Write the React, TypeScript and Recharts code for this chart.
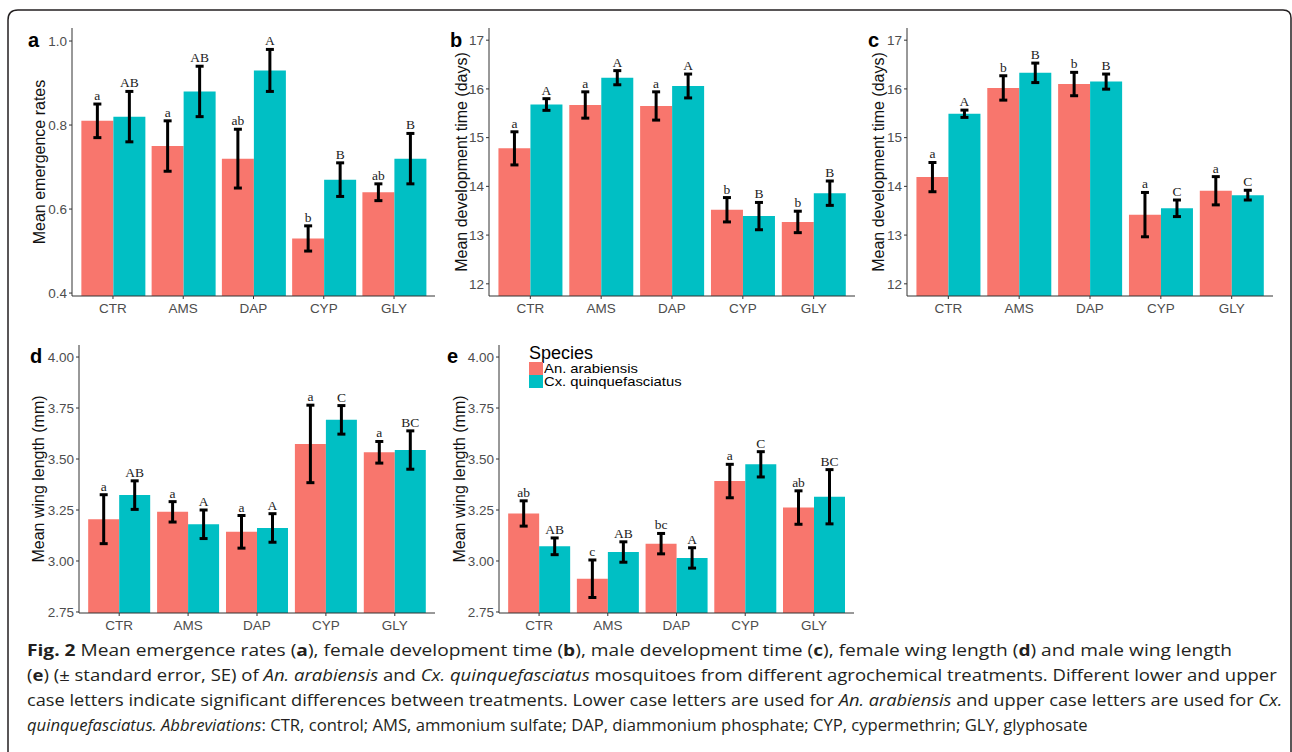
import React, { useLayoutEffect, useRef, useState } from 'react';
import { BarChart, Bar, XAxis, YAxis, ErrorBar, LabelList, Legend } from 'recharts';

// ---------- data ----------
const categories = ['CTR', 'AMS', 'DAP', 'CYP', 'GLY'];
const speciesNames = ['An. arabiensis', 'Cx. quinquefasciatus'];
const anColor = '#F8766D';
const cxColor = '#00BFC4';

// (a) Mean emergence rates
const emergenceAn = [0.81, 0.75, 0.72, 0.53, 0.64];
const emergenceAnSE = [0.04, 0.06, 0.07, 0.03, 0.02];
const emergenceAnLetters = ['a', 'a', 'ab', 'b', 'ab'];
const emergenceCx = [0.82, 0.88, 0.93, 0.67, 0.72];
const emergenceCxSE = [0.06, 0.06, 0.05, 0.04, 0.06];
const emergenceCxLetters = ['AB', 'AB', 'A', 'B', 'B'];
const emergenceTicks = [0.4, 0.6, 0.8, 1.0];
const emergenceDomain = [0.393, 1.031];

// (b) Female development time
const femDevAn = [14.78, 15.67, 15.65, 13.52, 13.27];
const femDevAnSE = [0.34, 0.27, 0.29, 0.25, 0.22];
const femDevAnLetters = ['a', 'a', 'a', 'b', 'b'];
const femDevCx = [15.68, 16.23, 16.06, 13.39, 13.86];
const femDevCxSE = [0.12, 0.145, 0.245, 0.28, 0.25];
const femDevCxLetters = ['A', 'A', 'A', 'B', 'B'];

// (c) Male development time
const maleDevAn = [14.19, 16.02, 16.1, 13.42, 13.91];
const maleDevAnSE = [0.3, 0.25, 0.24, 0.455, 0.29];
const maleDevAnLetters = ['a', 'b', 'b', 'a', 'a'];
const maleDevCx = [15.49, 16.33, 16.15, 13.55, 13.82];
const maleDevCxSE = [0.075, 0.2, 0.155, 0.17, 0.1];
const maleDevCxLetters = ['A', 'B', 'B', 'C', 'C'];
const devTicks = [12, 13, 14, 15, 16, 17];
const devDomain = [11.75, 17.25];

// (d) Female wing length
const femWingAn = [3.205, 3.241, 3.143, 3.574, 3.533];
const femWingAnSE = [0.12, 0.05, 0.08, 0.19, 0.053];
const femWingAnLetters = ['a', 'a', 'a', 'a', 'a'];
const femWingCx = [3.323, 3.18, 3.162, 3.692, 3.544];
const femWingCxSE = [0.07, 0.07, 0.07, 0.07, 0.094];
const femWingCxLetters = ['AB', 'A', 'A', 'C', 'BC'];

// (e) Male wing length
const maleWingAn = [3.233, 2.913, 3.085, 3.392, 3.262];
const maleWingAnSE = [0.062, 0.092, 0.05, 0.082, 0.082];
const maleWingAnLetters = ['ab', 'c', 'bc', 'a', 'ab'];
const maleWingCx = [3.072, 3.044, 3.015, 3.474, 3.315];
const maleWingCxSE = [0.041, 0.05, 0.05, 0.062, 0.133];
const maleWingCxLetters = ['AB', 'AB', 'A', 'C', 'BC'];
const wingTicks = [2.75, 3.0, 3.25, 3.5, 3.75, 4.0];
const wingDomain = [2.745, 4.059];

const SANS = '"Liberation Sans", Arial, Helvetica, sans-serif';
const SERIF = '"Liberation Serif", "Times New Roman", serif';

function makeRows(an: number[], anSE: number[], cx: number[], cxSE: number[]) {
  return categories.map((cat, i) => ({
    cat,
    an: an[i],
    anErr: anSE[i],
    cx: cx[i],
    cxErr: cxSE[i],
  }));
}

function letterLabel(letters: string[], means: number[], se: number[], base: number) {
  return (p: any) => {
    const vb = p.viewBox && p.viewBox.width != null ? p.viewBox : p;
    const x = Number(vb.x);
    const y = Number(vb.y);
    const width = Number(vb.width);
    const height = Number(vb.height);
    let i = p.index;
    if (i == null || means[i] == null) i = means.indexOf(Number(p.value));
    if (i < 0 || i == null) return null;
    const ppu = height / (means[i] - base);
    const topY = y - se[i] * ppu;
    return (
      <text
        x={x + width / 2}
        y={topY - 4}
        textAnchor="middle"
        fontFamily={SERIF}
        fontSize={13.5}
        fill="#222"
      >
        {letters[i]}
      </text>
    );
  };
}

const renderLegend = (props: any) => {
  const payload = props.payload || [];
  return (
    <div style={{ fontFamily: SANS, color: '#000' }}>
      <div style={{ fontSize: 18, lineHeight: '18px', height: 18 }}>Species</div>
      {payload.map((e: any, i: number) => (
        <div key={i} style={{ display: 'flex', alignItems: 'center', height: 13, overflow: 'visible' }}>
          <span style={{ display: 'inline-block', width: 14, height: 13, background: e.color, flex: 'none' }} />
          <span
            style={{
              display: 'inline-block',
              fontSize: 13,
              lineHeight: '13px',
              height: 13,
              marginLeft: 1,
              whiteSpace: 'nowrap',
              transform: 'scaleX(1.14)',
              transformOrigin: 'left center',
            }}
          >
            {e.value}
          </span>
        </div>
      ))}
    </div>
  );
};

type PanelProps = {
  left: number;
  top: number;
  width: number;
  height: number;
  plotTop: number;
  plotBottom: number;
  axisX: number;
  plotRight: number;
  titleX: number;
  yLabel: string;
  an: number[];
  anSE: number[];
  anLetters: string[];
  cx: number[];
  cxSE: number[];
  cxLetters: string[];
  domain: number[];
  ticks: number[];
  digits: number;
  legend?: boolean;
  legendLeft?: number;
  legendTop?: number;
};

function Panel(p: PanelProps) {
  const data = makeRows(p.an, p.anSE, p.cx, p.cxSE);
  const yAxisWidth = p.axisX - p.left;
  const plotW = p.plotRight - p.axisX;
  const pad = plotW / 62;
  const mTop = p.plotTop - p.top;
  const xAxisHeight = p.height - mTop - (p.plotBottom - p.plotTop);
  const mRight = p.left + p.width - p.plotRight;
  const titleCx = p.titleX - p.left;
  return (
    <div style={{ position: 'absolute', left: p.left, top: p.top, width: p.width, height: p.height }}>
      <BarChart
        width={p.width}
        height={p.height}
        data={data}
        margin={{ top: mTop, right: mRight, bottom: 0, left: 0 }}
        barGap={0}
        barCategoryGap="5%"
      >
        <XAxis
          dataKey="cat"
          height={xAxisHeight}
          interval={0}
          padding={{ left: pad, right: pad }}
          tickSize={3}
          tickMargin={4}
          axisLine={{ stroke: '#333', strokeWidth: 1 }}
          tickLine={{ stroke: '#333', strokeWidth: 1 }}
          tick={{ fill: '#4d4d4d', fontSize: 13.5, fontFamily: SANS }}
        />
        <YAxis
          type="number"
          width={yAxisWidth}
          domain={p.domain}
          ticks={p.ticks}
          allowDataOverflow
          interval={0}
          tickSize={3}
          tickMargin={2}
          tickFormatter={(v: number) => v.toFixed(p.digits)}
          axisLine={{ stroke: '#333', strokeWidth: 1 }}
          tickLine={{ stroke: '#333', strokeWidth: 1 }}
          tick={{ fill: '#4d4d4d', fontSize: 13.5, fontFamily: SANS }}
          label={{
            content: (lp: any) => {
              const vb = lp.viewBox || { y: mTop, height: p.plotBottom - p.plotTop };
              const cy = vb.y + vb.height / 2;
              return (
                <text
                  x={titleCx}
                  y={cy}
                  transform={`rotate(-90 ${titleCx} ${cy})`}
                  textAnchor="middle"
                  dominantBaseline="central"
                  fontFamily={SANS}
                  fontSize={16}
                  fill="#111"
                >
                  {p.yLabel}
                </text>
              );
            },
          }}
        />
        {p.legend ? (
          <Legend
            layout="horizontal"
            verticalAlign="middle"
            align="center"
            content={renderLegend}
            wrapperStyle={{ left: p.legendLeft, top: p.legendTop, width: 260, height: 44 }}
          />
        ) : null}
        <Bar dataKey="an" name={speciesNames[0]} fill={anColor} isAnimationActive={false}>
          <ErrorBar dataKey="anErr" direction="y" width={4} strokeWidth={3} stroke="#000" isAnimationActive={false} />
          <LabelList dataKey="an" content={letterLabel(p.anLetters, p.an, p.anSE, p.domain[0])} />
        </Bar>
        <Bar dataKey="cx" name={speciesNames[1]} fill={cxColor} isAnimationActive={false}>
          <ErrorBar dataKey="cxErr" direction="y" width={4} strokeWidth={3} stroke="#000" isAnimationActive={false} />
          <LabelList dataKey="cx" content={letterLabel(p.cxLetters, p.cx, p.cxSE, p.domain[0])} />
        </Bar>
      </BarChart>
    </div>
  );
}

const panelLetters = [
  { t: 'a', x: 28, y: 47 },
  { t: 'b', x: 450, y: 47 },
  { t: 'c', x: 868, y: 47 },
  { t: 'd', x: 30, y: 363 },
  { t: 'e', x: 447, y: 363 },
];

// caption lines are stretched horizontally to the widths they take in the figure
function CaptionLine({ target, children }: { target: number; children: React.ReactNode }) {
  const ref = useRef<HTMLSpanElement>(null);
  const [scale, setScale] = useState(1.2);
  useLayoutEffect(() => {
    if (ref.current) {
      const w = ref.current.offsetWidth;
      if (w > 0) setScale(target / w);
    }
  }, [target]);
  return (
    <div style={{ height: 25 }}>
      <span
        ref={ref}
        style={{
          display: 'inline-block',
          whiteSpace: 'nowrap',
          transform: `scaleX(${scale})`,
          transformOrigin: 'left center',
        }}
      >
        {children}
      </span>
    </div>
  );
}

export default function App() {
  return (
    <div
      style={{
        position: 'absolute',
        left: 0,
        top: 0,
        width: 1292,
        height: 752,
        background: '#fff',
        overflow: 'hidden',
      }}
    >
      <Panel
        left={0} top={0} width={440} height={325}
        plotTop={28} plotBottom={296} axisX={72} plotRight={435} titleX={39}
        yLabel="Mean emergence rates"
        an={emergenceAn} anSE={emergenceAnSE} anLetters={emergenceAnLetters}
        cx={emergenceCx} cxSE={emergenceCxSE} cxLetters={emergenceCxLetters}
        domain={emergenceDomain} ticks={emergenceTicks} digits={1}
      />
      <Panel
        left={445} top={0} width={420} height={325}
        plotTop={28} plotBottom={296} axisX={489} plotRight={855} titleX={461}
        yLabel="Mean development time (days)"
        an={femDevAn} anSE={femDevAnSE} anLetters={femDevAnLetters}
        cx={femDevCx} cxSE={femDevCxSE} cxLetters={femDevCxLetters}
        domain={devDomain} ticks={devTicks} digits={0}
      />
      <Panel
        left={865} top={0} width={425} height={325}
        plotTop={28} plotBottom={296} axisX={907} plotRight={1273} titleX={878}
        yLabel="Mean development time (days)"
        an={maleDevAn} anSE={maleDevAnSE} anLetters={maleDevAnLetters}
        cx={maleDevCx} cxSE={maleDevCxSE} cxLetters={maleDevCxLetters}
        domain={devDomain} ticks={devTicks} digits={0}
      />
      <Panel
        left={0} top={330} width={440} height={310}
        plotTop={345} plotBottom={613} axisX={79} plotRight={435} titleX={38}
        yLabel="Mean wing length (mm)"
        an={femWingAn} anSE={femWingAnSE} anLetters={femWingAnLetters}
        cx={femWingCx} cxSE={femWingCxSE} cxLetters={femWingCxLetters}
        domain={wingDomain} ticks={wingTicks} digits={2}
      />
      <Panel
        left={440} top={330} width={420} height={310}
        plotTop={345} plotBottom={613} axisX={499} plotRight={854} titleX={459}
        yLabel="Mean wing length (mm)"
        an={maleWingAn} anSE={maleWingAnSE} anLetters={maleWingAnLetters}
        cx={maleWingCx} cxSE={maleWingCxSE} cxLetters={maleWingCxLetters}
        domain={wingDomain} ticks={wingTicks} digits={2}
        legend legendLeft={89} legendTop={14}
      />
      <svg
        width={1292}
        height={752}
        style={{ position: 'absolute', left: 0, top: 0, pointerEvents: 'none' }}
      >
        <path
          d="M 8 770 L 8 20 Q 8 10 18 10 L 1283 10 Q 1291 10 1291 18 L 1291 770"
          fill="none"
          stroke="#231f20"
          strokeWidth={1.5}
        />
        {panelLetters.map((l) => (
          <text key={l.t} x={l.x} y={l.y} fontFamily={SANS} fontWeight="bold" fontSize={20} fill="#000">
            {l.t}
          </text>
        ))}
      </svg>
      <div
        style={{
          position: 'absolute',
          left: 27,
          top: 637.5,
          fontFamily: '"Open Sans", "Noto Sans", sans-serif',
          fontSize: 15.5,
          lineHeight: '25px',
          color: '#231f20',
        }}
      >
        <CaptionLine target={1205}>
          <b>Fig. 2</b> Mean emergence rates (<b>a</b>), female development time (<b>b</b>), male development time (<b>c</b>), female wing length (<b>d</b>) and male wing length
        </CaptionLine>
        <CaptionLine target={1250}>
          (<b>e</b>) (± standard error, SE) of <i>An. arabiensis</i> and <i>Cx. quinquefasciatus</i> mosquitoes from different agrochemical treatments. Different lower and upper
        </CaptionLine>
        <CaptionLine target={1255}>
          case letters indicate significant differences between treatments. Lower case letters are used for <i>An. arabiensis</i> and upper case letters are used for <i>Cx.</i>
        </CaptionLine>
        <CaptionLine target={1061}>
          <i>quinquefasciatus. Abbreviations</i>: CTR, control; AMS, ammonium sulfate; DAP, diammonium phosphate; CYP, cypermethrin; GLY, glyphosate
        </CaptionLine>
      </div>
    </div>
  );
}
